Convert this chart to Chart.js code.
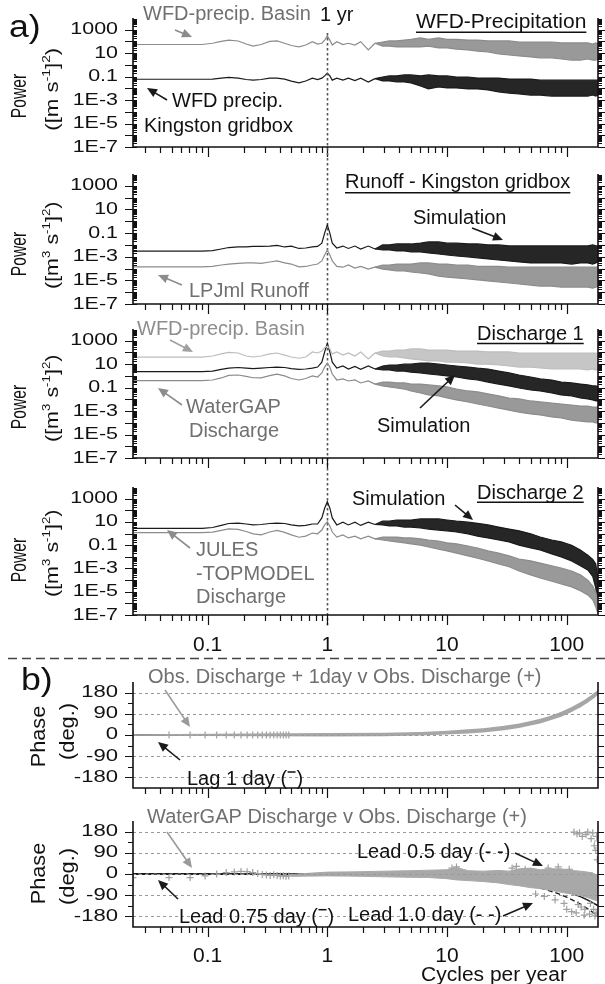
<!DOCTYPE html>
<html>
<head>
<meta charset="utf-8">
<script src="https://cdn.jsdelivr.net/npm/chart.js@4.4.1/dist/chart.umd.min.js"></script>
<style>
body { margin: 0; background: #fff; }
#fig { position: relative; width: 605px; height: 984px; background: #fff; overflow: hidden; }
#fig canvas { position: absolute; left: 0; top: 0; }
.ytitle { position: absolute; white-space: nowrap; color: #111; transform-origin: 50% 50%; z-index: 5; }
.ytitle .sup { font-size: 0.62em; position: relative; top: -0.68em; }
</style>
</head>
<body>
<div id="fig"></div>
<script>
// ---- data (cycles per year / power / phase) ----
var freqLow = [0.0238, 0.03, 0.04, 0.05, 0.06, 0.075, 0.09, 0.11, 0.13, 0.15, 0.18, 0.21, 0.24, 0.28, 0.33, 0.38, 0.44, 0.5, 0.58, 0.66, 0.75, 0.83, 0.9, 0.95, 1.0, 1.05, 1.1, 1.2, 1.35, 1.5, 1.7, 1.9, 2.2, 2.5];
var freqBand = [2.5, 2.9, 3.3, 3.8, 4.4, 5, 6, 7, 8.5, 10, 12, 15, 18, 22, 27, 33, 40, 50, 60, 75, 90, 110, 130, 150, 165, 175, 182.6];

// a) WFD precipitation
var precipBasinLow = [55, 55, 55, 55, 55, 55, 55, 70, 100, 130, 110, 60, 40, 55, 100, 110, 70, 45, 35, 50, 95, 60, 70, 130, 300, 130, 50, 95, 55, 70, 50, 95, 19, 70];
var precipBasinHi = [70, 90, 110, 110, 130, 150, 200, 150, 200, 150, 150, 130, 130, 110, 110, 110, 90, 90, 90, 90, 75, 75, 75, 75, 60, 75, 60];
var precipBasinLo = [70, 40, 40, 34, 34, 34, 34, 40, 28, 28, 22, 19, 15, 13, 8.5, 7, 5.8, 4.8, 4, 4, 3.2, 2.6, 2.6, 3.2, 2.6, 2.6, 3.2];
var precipGridLow = [0.06, 0.06, 0.06, 0.06, 0.06, 0.06, 0.06, 0.062, 0.075, 0.085, 0.075, 0.057, 0.05, 0.057, 0.075, 0.075, 0.062, 0.042, 0.029, 0.042, 0.075, 0.057, 0.075, 0.115, 0.2, 0.115, 0.05, 0.075, 0.05, 0.075, 0.046, 0.075, 0.035, 0.068];
var precipGridHi = [0.068, 0.093, 0.115, 0.115, 0.14, 0.14, 0.115, 0.14, 0.115, 0.115, 0.093, 0.093, 0.075, 0.075, 0.075, 0.062, 0.062, 0.062, 0.05, 0.05, 0.05, 0.05, 0.05, 0.05, 0.05, 0.05, 0.05];
var precipGridLo = [0.068, 0.043, 0.043, 0.035, 0.035, 0.029, 0.016, 0.009, 0.013, 0.011, 0.011, 0.009, 0.009, 0.0073, 0.0049, 0.004, 0.0033, 0.0027, 0.0027, 0.0022, 0.0022, 0.0022, 0.0022, 0.0022, 0.0027, 0.0022, 0.0027];

// runoff - Kingston gridbox
var runoffSimLow = [0.003, 0.003, 0.003, 0.003, 0.003, 0.003, 0.003, 0.0033, 0.0045, 0.006, 0.0067, 0.0067, 0.0075, 0.0075, 0.008, 0.009, 0.0067, 0.008, 0.005, 0.0055, 0.0067, 0.0075, 0.014, 0.1, 0.49, 0.1, 0.014, 0.0055, 0.008, 0.005, 0.008, 0.0045, 0.008, 0.0045];
var runoffSimHi = [0.0045, 0.01, 0.01, 0.012, 0.012, 0.012, 0.014, 0.018, 0.018, 0.014, 0.014, 0.012, 0.012, 0.01, 0.01, 0.0082, 0.0082, 0.0082, 0.0082, 0.0082, 0.0082, 0.0082, 0.0082, 0.0082, 0.01, 0.0082, 0.0082];
var runoffSimLo = [0.0045, 0.0037, 0.0037, 0.0031, 0.0031, 0.0025, 0.0025, 0.0021, 0.0017, 0.0014, 0.00115, 0.00095, 0.0008, 0.00065, 0.00053, 0.00044, 0.00036, 0.0003, 0.0003, 0.0003, 0.0003, 0.00024, 0.0003, 0.0003, 0.00024, 0.0003, 0.00036];
var lpjmlLow = [1.4e-4, 1.4e-4, 1.4e-4, 1.4e-4, 1.4e-4, 1.4e-4, 1.4e-4, 1.5e-4, 2e-4, 2.4e-4, 2.7e-4, 3e-4, 3e-4, 2.7e-4, 3.6e-4, 4.4e-4, 3e-4, 2.4e-4, 1.4e-4, 1.5e-4, 2e-4, 2.4e-4, 4.4e-4, 1.4e-3, 3.7e-3, 1.4e-3, 4.4e-4, 1.5e-4, 1.3e-4, 2e-4, 1.1e-4, 1.5e-4, 9e-5, 1.3e-4];
var lpjmlHi = [1.3e-4, 2e-4, 2e-4, 2.4e-4, 2.4e-4, 2.4e-4, 3e-4, 3e-4, 2.4e-4, 2.4e-4, 2e-4, 2e-4, 1.5e-4, 1.5e-4, 1.5e-4, 1.3e-4, 1.3e-4, 1.3e-4, 1.3e-4, 1.3e-4, 1.3e-4, 1.3e-4, 1.3e-4, 1.3e-4, 1.3e-4, 1.3e-4, 1.3e-4];
var lpjmlLo = [1.3e-4, 9e-5, 7.6e-5, 6.2e-5, 6.2e-5, 5.1e-5, 4.2e-5, 3.5e-5, 2.3e-5, 1.9e-5, 1.6e-5, 1.3e-5, 1.1e-5, 9e-6, 7.3e-6, 6e-6, 4.9e-6, 4e-6, 3.3e-6, 3.3e-6, 2.7e-6, 2.7e-6, 2.7e-6, 2.7e-6, 2.2e-6, 2.7e-6, 3.3e-6];

// discharge 1
var basinLow = [40, 40, 40, 40, 40, 40, 40, 50, 75, 100, 90, 50, 41, 50, 75, 90, 60, 41, 32, 41, 110, 90, 130, 250, 360, 200, 75, 110, 60, 90, 50, 110, 28, 90];
var basinHi = [90, 130, 130, 160, 160, 200, 200, 160, 160, 160, 130, 130, 130, 110, 110, 110, 90, 90, 90, 90, 90, 90, 90, 90, 90, 90, 75];
var basinLo = [90, 50, 41, 41, 34, 28, 23, 19, 19, 15, 15, 12.6, 10, 10, 8.5, 7, 5.7, 5.7, 4.7, 3.9, 3.9, 3.9, 3.9, 3.2, 3.9, 3.2, 3.9];
var dis1SimLow = [2.3, 2.3, 2.3, 2.3, 2.3, 2.3, 2.3, 2.6, 3.6, 4.6, 5.2, 4.6, 4.2, 4.6, 5.2, 5.7, 5.2, 4.2, 3.6, 3.9, 4.6, 5.7, 15, 110, 600, 110, 15, 4.6, 7, 3.9, 6.5, 3.6, 7, 3.9];
var dis1SimHi = [3.9, 7, 8.5, 8.5, 10, 10, 12.6, 12.6, 10, 8.5, 7, 5.7, 4.6, 3.9, 2.6, 1.8, 1.2, 0.81, 0.55, 0.45, 0.3, 0.25, 0.2, 0.17, 0.14, 0.14, 0.115];
var dis1SimLo = [3.9, 3.2, 3.2, 2.6, 2.6, 2.1, 1.8, 1.45, 1.2, 1.0, 0.81, 0.55, 0.45, 0.3, 0.2, 0.14, 0.093, 0.063, 0.052, 0.035, 0.024, 0.02, 0.013, 0.011, 0.009, 0.0073, 0.0073];
var waterGapLow = [0.39, 0.39, 0.39, 0.39, 0.39, 0.39, 0.39, 0.45, 0.67, 1.1, 1.2, 0.9, 0.7, 0.67, 1.05, 1.4, 1.0, 0.6, 0.45, 0.6, 1.0, 0.81, 1.8, 5.7, 12.6, 5.7, 1.45, 0.45, 0.55, 0.37, 0.45, 0.25, 0.37, 0.2];
var waterGapHi = [0.2, 0.3, 0.3, 0.25, 0.25, 0.2, 0.2, 0.17, 0.14, 0.115, 0.076, 0.052, 0.043, 0.029, 0.02, 0.013, 0.011, 0.0073, 0.006, 0.0049, 0.004, 0.0033, 0.0027, 0.0027, 0.0022, 0.0022, 0.0022];
var waterGapLo = [0.2, 0.14, 0.115, 0.093, 0.076, 0.052, 0.035, 0.024, 0.02, 0.013, 0.009, 0.006, 0.004, 0.0027, 0.0018, 0.0012, 8.3e-4, 5.7e-4, 4.7e-4, 3.2e-4, 2.6e-4, 1.7e-4, 1.4e-4, 1.2e-4, 1.2e-4, 9.8e-5, 9.8e-5];

// discharge 2
var dis2SimLow = [2.8, 2.8, 2.8, 2.8, 2.8, 2.8, 2.8, 3.3, 5.0, 7.3, 8, 6.6, 5.5, 6, 7.3, 8, 7.3, 5.5, 4.5, 5, 6.6, 6.6, 22, 150, 550, 150, 22, 5.5, 9.5, 5.5, 9.5, 5, 9.5, 6];
var dis2SimHi = [6, 11.5, 11.5, 14.6, 14.6, 14.6, 18, 18, 18, 14.6, 11.5, 9.5, 7.6, 5.5, 3.6, 2.4, 1.7, 0.95, 0.5, 0.28, 0.19, 0.1, 0.039, 0.014, 0.006, 0.0024, 1e-4];
var dis2SimLo = [6, 5.5, 4.5, 4.5, 3.6, 3.6, 3, 2.4, 2.0, 1.7, 1.35, 0.95, 0.6, 0.42, 0.28, 0.19, 0.1, 0.057, 0.039, 0.018, 0.01, 0.0045, 0.0017, 7.4e-4, 2.1e-4, 2.1e-5, 1.5e-7];
var julesLow = [1.2, 1.2, 1.2, 1.2, 1.2, 1.2, 1.2, 1.35, 1.85, 2.5, 2.3, 1.5, 0.95, 0.76, 1.35, 1.85, 1.25, 0.76, 0.48, 0.6, 1.1, 0.95, 2, 5.5, 10.4, 4.5, 1.35, 0.5, 0.76, 0.42, 0.6, 0.35, 0.6, 0.35];
var julesHi = [0.35, 0.5, 0.5, 0.5, 0.42, 0.42, 0.35, 0.28, 0.23, 0.16, 0.13, 0.085, 0.057, 0.032, 0.021, 0.012, 0.0065, 0.0045, 0.0029, 0.0017, 0.0011, 6e-4, 2.8e-4, 1e-4, 3.1e-5, 8.6e-6, 2e-6];
var julesLo = [0.35, 0.28, 0.23, 0.19, 0.16, 0.13, 0.1, 0.07, 0.046, 0.032, 0.021, 0.012, 0.0075, 0.0045, 0.0025, 0.0014, 6e-4, 2.8e-4, 1.5e-4, 8e-5, 4.6e-5, 2.6e-5, 1.2e-5, 5.3e-6, 2e-6, 5e-7, 1.25e-7];

// b) phase
var phaseFreq = [0.0238, 1, 3, 6, 10, 15, 20, 30, 40, 50, 60, 70, 80, 90, 100, 110, 120, 130, 140, 150, 160, 170, 182.6];
var lag1Day = [0.02, 1, 3, 5.9, 9.9, 14.8, 19.7, 29.6, 39.4, 49.3, 59.1, 69, 78.9, 88.7, 98.6, 108.4, 118.3, 128.1, 138, 147.8, 157.7, 167.6, 180];
var obsLagHi = [3, 8, 10, 13, 18, 24, 29, 39, 49, 59, 69, 79, 89, 99, 109, 119, 129, 139, 149, 159, 169, 179, 191];
var obsLagLo = [-3, -6, -5, -2, 2, 6, 11, 20, 30, 40, 49, 59, 69, 78, 88, 98, 108, 117, 127, 137, 147, 157, 170];
var lowBinFreq = [0.0238, 0.0476, 0.0714, 0.0952, 0.119, 0.143, 0.167, 0.19, 0.214, 0.238, 0.262, 0.286, 0.31, 0.333, 0.357, 0.381, 0.405, 0.429, 0.452, 0.476];
var obsLagLowPhase = [0.02, 0.05, 0.07, 0.09, 0.12, 0.14, 0.16, 0.19, 0.21, 0.23, 0.26, 0.28, 0.31, 0.33, 0.35, 0.38, 0.4, 0.42, 0.45, 0.47];

var lead075Day = [-0.02, -0.74, -2.2, -4.4, -7.4, -11.1, -14.8, -22.2, -29.6, -37, -44.4, -51.7, -59.1, -66.5, -73.9, -81.3, -88.7, -96.1, -103.5, -110.9, -118.3, -125.6, -135];
var lead05Day = [-0.01, -0.5, -1.5, -3, -4.9, -7.4, -9.9, -14.8, -19.7, -24.6, -29.6, -34.5, -39.4, -44.4, -49.3, -54.2, -59.1, -64.1, -69, -73.9, -78.9, -83.8, -90];
var lead1Day = [-0.02, -1, -3, -5.9, -9.9, -14.8, -19.7, -29.6, -39.4, -49.3, -59.1, -69, -78.9, -88.7, -98.6, -108.4, -118.3, -128.1, -138, -147.8, -157.7, -167.6, -180];
var wgLowPhase = [-15, -15, -15, -8, 0, 6, 9, 11, 10, 6, 2, -2, -4, -6, -3, -6, -9, -7, -10, -8];
var wgCloudFreq = [0.5, 0.7, 1, 1.5, 2, 3, 5, 7, 10, 12, 15, 20, 27, 33, 40, 50, 60, 75, 90, 110, 130, 150, 165, 182.6];
var wgCloudHi = [-2, 3, 8, 9, 10, 12, 14, 16, 18, 28, 14, 12, 15, 12, 22, 25, 18, 22, 22, 15, 12, 8, 5, -10];
var wgCloudLo = [-10, -9, -8, -9, -10, -12, -14, -15, -20, -25, -28, -32, -38, -45, -50, -58, -62, -70, -78, -85, -92, -100, -108, -115];
var wgOutFreq = [11, 12, 35, 38, 45, 55, 65, 70, 80, 85, 95, 100, 105, 110, 115, 120, 122, 128, 135, 140, 145, 150, 155, 160, 165, 170, 172, 175, 178, 180, 181, 182, 125, 132, 142, 158, 168, 176];
var wgOutPhase = [25, 30, 25, 32, 20, -85, -95, 25, -110, 30, -125, -150, 20, -160, 178, -165, 170, 175, 160, -175, 168, 178, -170, 150, 175, 120, -178, 100, 160, 60, 140, -170, -130, -140, -150, -125, -150, -165];

// tick labels
var powerTicks = [1e3, 10, 0.1, 1e-3, 1e-5, 1e-7];
var powerTickLabels = ['1000', '10', '0.1', '1E-3', '1E-5', '1E-7'];
var phaseTicks = [180, 90, 0, -90, -180];
var phaseTickLabels = ['180', '90', '0', '-90', '-180'];
var freqTicks = [0.1, 1, 10, 100];
var freqTickLabels = ['0.1', '1', '10', '100'];

// ---- drawing ----
var W = 605, H = 984, XMIN = 0.0238, XMAX = 182.6;
var PLOT_L = 133, PLOT_R = 598;
var FONT = '"Liberation Sans", Arial, Helvetica, sans-serif';
var BLACK = '#1a1a1a', GRAY = '#8c8c8c', LIGHT = '#bdbdbd', GRAY_TXT = '#707070', LIGHT_TXT = '#8e8e8e';
var fig = document.getElementById('fig');

function xy(xs, ys) {
    return xs.map(function (v, i) { return { x: v, y: ys[i] }; });
}

function line(xs, ys, color, w, extra) {
    var d = { data: xy(xs, ys), borderColor: color, backgroundColor: color, borderWidth: w, pointRadius: 0, tension: 0, fill: false };
    for (var k in extra) d[k] = extra[k];
    return d;
}

// a spectrum: thin line at low frequency + noisy band (filled between hi and lo)
function spectrum(low, hi, lo, color, bandFill) {
    return [
        line(freqLow, low, color, 1.2),
        line(freqBand, hi, color, 1.2),
        line(freqBand, lo, color, 1.2, { fill: '-1', backgroundColor: bandFill })
    ];
}

function marks(xs, ys, color) {
    return { data: xy(xs, ys), showLine: false, pointStyle: 'cross', pointRadius: 3.5, pointBorderColor: color, pointBorderWidth: 1.2, borderColor: color };
}

function font(size) {
    return Math.round(size * 10) / 10 + 'px ' + FONT;
}

function label(ctx, s, x, y, o) {
    o = o || {};
    var sx = o.sx || 1;
    ctx.save();
    ctx.translate(x, y);
    ctx.scale(sx, 1);
    ctx.font = font(o.size || 20);
    ctx.fillStyle = o.color || '#111';
    ctx.textAlign = o.align || 'left';
    ctx.textBaseline = o.base || 'alphabetic';
    ctx.fillText(s, 0, 0);
    var w = ctx.measureText(s).width * sx;
    ctx.restore();
    if (o.under) {
        ctx.save();
        ctx.strokeStyle = o.color || '#111';
        ctx.lineWidth = 1.4;
        ctx.beginPath();
        ctx.moveTo(x, y + o.under);
        ctx.lineTo(x + w, y + o.under);
        ctx.stroke();
        ctx.restore();
    }
    return w;
}

// "... (‾)" : the line symbol is drawn as a short stroke near cap height
function lineKey(ctx, s, x, y) {
    var w = label(ctx, s + ' (', x, y, { size: 20 });
    ctx.save();
    ctx.strokeStyle = '#111';
    ctx.lineWidth = 1.5;
    ctx.beginPath();
    ctx.moveTo(x + w + 0.5, y - 13);
    ctx.lineTo(x + w + 8.5, y - 13);
    ctx.stroke();
    ctx.restore();
    label(ctx, ')', x + w + 9.5, y, { size: 20 });
}

function arrow(ctx, x1, y1, x2, y2, color) {
    var a = Math.atan2(y2 - y1, x2 - x1), L = 10, hw = 4.5;
    var ca = Math.cos(a), sa = Math.sin(a);
    ctx.save();
    ctx.strokeStyle = color;
    ctx.fillStyle = color;
    ctx.lineWidth = 1.6;
    ctx.beginPath();
    ctx.moveTo(x1, y1);
    ctx.lineTo(x2 - L * 0.8 * ca, y2 - L * 0.8 * sa);
    ctx.stroke();
    ctx.beginPath();
    ctx.moveTo(x2, y2);
    ctx.lineTo(x2 - L * ca + hw * sa, y2 - L * sa - hw * ca);
    ctx.lineTo(x2 - L * ca - hw * sa, y2 - L * sa + hw * ca);
    ctx.closePath();
    ctx.fill();
    ctx.restore();
}

function box(c) {
    var ctx = c.ctx, a = c.chartArea;
    ctx.save();
    ctx.strokeStyle = '#111';
    ctx.lineWidth = 1.6;
    ctx.beginPath();
    ctx.moveTo(a.left, a.top);
    ctx.lineTo(a.left, a.bottom);
    ctx.lineTo(a.right, a.bottom);
    ctx.lineTo(a.right, a.top);
    ctx.stroke();
    // x ticks (outward, below)
    ctx.lineWidth = 1.2;
    ctx.beginPath();
    for (var e = -2; e <= 2; e++) {
        for (var m = 1; m < 10; m++) {
            var v = m * Math.pow(10, e);
            if (v < XMIN || v > XMAX) continue;
            var px = Math.round(c.scales.x.getPixelForValue(v)) + 0.5;
            ctx.moveTo(px, a.bottom);
            ctx.lineTo(px, a.bottom + (m === 1 ? 10 : 6));
        }
    }
    ctx.stroke();
    ctx.restore();
}

function frameLog(c) {
    var ctx = c.ctx, a = c.chartArea, y = c.scales.y;
    box(c);
    ctx.save();
    ctx.strokeStyle = '#111';
    ctx.lineWidth = 1;
    ctx.beginPath();
    for (var e = -7; e <= 3; e++) {
        for (var m = 1; m < 10; m++) {
            var py = Math.round(y.getPixelForValue(m * Math.pow(10, e))) + 0.5;
            if (m === 1) {
                ctx.moveTo(a.left - 8, py); ctx.lineTo(a.left + 4, py);
                ctx.moveTo(a.right, py); ctx.lineTo(a.right + 7, py);
            } else {
                ctx.moveTo(a.left, py); ctx.lineTo(a.left + 4, py);
                ctx.moveTo(a.right, py); ctx.lineTo(a.right + 4, py);
            }
        }
    }
    ctx.stroke();
    ctx.restore();
    powerTicks.forEach(function (v, i) {
        label(ctx, powerTickLabels[i], PLOT_L - 15, y.getPixelForValue(v), { size: 16.5, sx: 1.3, align: 'right', base: 'middle' });
    });
}

function framePhase(c) {
    var ctx = c.ctx, a = c.chartArea, y = c.scales.y;
    ctx.save();
    ctx.strokeStyle = '#9a9a9a';
    ctx.lineWidth = 1;
    ctx.setLineDash([3, 3]);
    ctx.beginPath();
    phaseTicks.forEach(function (v) {
        var py = Math.round(y.getPixelForValue(v)) + 0.5;
        ctx.moveTo(a.left, py); ctx.lineTo(a.right, py);
    });
    ctx.stroke();
    ctx.restore();
    box(c);
    ctx.save();
    ctx.strokeStyle = '#111';
    ctx.lineWidth = 1.2;
    ctx.beginPath();
    for (var v = -180; v <= 180; v += 45) {
        var py = Math.round(y.getPixelForValue(v)) + 0.5;
        var len = (v % 90 === 0) ? 8 : 5;
        ctx.moveTo(a.left - len, py); ctx.lineTo(a.left, py);
        ctx.moveTo(a.right, py); ctx.lineTo(a.right + 6, py);
    }
    ctx.stroke();
    ctx.restore();
    phaseTicks.forEach(function (v, i) {
        label(ctx, phaseTickLabels[i], PLOT_L - 15, y.getPixelForValue(v), { size: 16, sx: 1.38, align: 'right', base: 'middle' });
    });
}

function xLabels(c, base) {
    freqTicks.forEach(function (v, i) {
        label(c.ctx, freqTickLabels[i], c.scales.x.getPixelForValue(v), base, { size: 20, sx: 1.05, align: 'center' });
    });
}

// rotated HTML axis titles, centred on (cx, cy), stretched along the text to 'fit' px
function yTitle(html, cx, cy, size, fit) {
    var el = document.createElement('div');
    el.className = 'ytitle';
    el.innerHTML = html;
    el.style.font = size + 'px ' + FONT;
    el.style.lineHeight = size + 'px';
    fig.appendChild(el);
    var w = el.offsetWidth;
    var k = fit ? fit / w : 1;
    el.style.left = (cx - w / 2) + 'px';
    el.style.top = (cy - size / 2) + 'px';
    el.style.transform = 'rotate(-90deg) scaleX(' + k.toFixed(3) + ')';
}

function addChart(top, bottom, yScale, datasets, deco) {
    var cv = document.createElement('canvas');
    cv.width = W;
    cv.height = H;
    cv.style.width = W + 'px';
    cv.style.height = H + 'px';
    fig.appendChild(cv);
    return new Chart(cv, {
        type: 'line',
        data: { datasets: datasets },
        options: {
            responsive: false,
            animation: false,
            devicePixelRatio: 1,
            events: [],
            layout: { padding: { left: PLOT_L, right: W - PLOT_R, top: top, bottom: H - bottom } },
            plugins: { legend: { display: false }, tooltip: { enabled: false } },
            scales: {
                x: { type: 'logarithmic', min: XMIN, max: XMAX, display: false },
                y: yScale
            }
        },
        plugins: [{ id: 'deco', afterDraw: deco }]
    });
}

var LOGY = { type: 'logarithmic', min: 1e-7, max: 1e4, display: false };
var LINY = { type: 'linear', min: -225, max: 225, display: false };

// panel 1: WFD precipitation
addChart(18, 147, LOGY,
    spectrum(precipBasinLow, precipBasinHi, precipBasinLo, GRAY, '#999999')
        .concat(spectrum(precipGridLow, precipGridHi, precipGridLo, BLACK, '#262626')),
    function (c) {
        var ctx = c.ctx;
        frameLog(c);
        label(ctx, 'a)', 9, 36.5, { size: 31, sx: 1.15 });
        var x1 = Math.round(c.scales.x.getPixelForValue(1)) + 0.5;
        ctx.save();
        ctx.strokeStyle = '#555';
        ctx.lineWidth = 1.6;
        ctx.setLineDash([2.5, 2.5]);
        ctx.beginPath();
        ctx.moveTo(x1, 33);
        ctx.lineTo(x1, 627);
        ctx.stroke();
        ctx.restore();
        label(ctx, '1 yr', 320, 20.5, { size: 20 });
        label(ctx, 'WFD-precip. Basin', 143, 20, { size: 20, color: GRAY_TXT });
        arrow(ctx, 175, 30, 192, 37, GRAY);
        label(ctx, 'WFD-Precipitation', 416, 28.3, { size: 20, sx: 1.05, under: 4 });
        label(ctx, 'WFD precip.', 172, 106.7, { size: 20 });
        label(ctx, 'Kingston gridbox', 144, 131.7, { size: 20 });
        arrow(ctx, 167, 100, 147, 88, BLACK);
    });

// panel 2: runoff
addChart(174, 304, LOGY,
    spectrum(lpjmlLow, lpjmlHi, lpjmlLo, GRAY, '#999999')
        .concat(spectrum(runoffSimLow, runoffSimHi, runoffSimLo, BLACK, '#262626')),
    function (c) {
        var ctx = c.ctx;
        frameLog(c);
        label(ctx, 'Runoff - Kingston gridbox', 345, 188.3, { size: 20, under: 4.5 });
        label(ctx, 'Simulation', 413, 224, { size: 20 });
        arrow(ctx, 472, 228, 503, 240, BLACK);
        label(ctx, 'LPJml Runoff', 189, 296.7, { size: 20, color: GRAY_TXT });
        arrow(ctx, 182, 285, 158, 275, GRAY);
    });

// panel 3: discharge 1
addChart(329, 458, LOGY,
    spectrum(basinLow, basinHi, basinLo, LIGHT, '#c6c6c6')
        .concat(spectrum(waterGapLow, waterGapHi, waterGapLo, GRAY, '#999999'))
        .concat(spectrum(dis1SimLow, dis1SimHi, dis1SimLo, BLACK, '#262626')),
    function (c) {
        var ctx = c.ctx;
        frameLog(c);
        label(ctx, 'WFD-precip. Basin', 137, 335, { size: 20, color: LIGHT_TXT });
        arrow(ctx, 170, 340, 193, 352, '#a0a0a0');
        label(ctx, 'Discharge 1', 477, 340, { size: 20, under: 3.5 });
        label(ctx, 'WaterGAP', 233.5, 413.3, { size: 20, color: GRAY_TXT, align: 'center' });
        label(ctx, 'Discharge', 234, 437.3, { size: 20, color: GRAY_TXT, align: 'center' });
        arrow(ctx, 182, 405, 158, 388, GRAY);
        label(ctx, 'Simulation', 377, 431.7, { size: 20 });
        arrow(ctx, 420, 408, 455, 375, BLACK);
    });

// panel 4: discharge 2
addChart(487, 615, LOGY,
    spectrum(julesLow, julesHi, julesLo, GRAY, '#999999')
        .concat(spectrum(dis2SimLow, dis2SimHi, dis2SimLo, BLACK, '#262626')),
    function (c) {
        var ctx = c.ctx;
        frameLog(c);
        xLabels(c, 650.5);
        label(ctx, 'Simulation', 352, 505, { size: 20 });
        arrow(ctx, 455, 505, 473, 520, BLACK);
        label(ctx, 'Discharge 2', 477, 499.3, { size: 20, under: 3 });
        label(ctx, 'JULES', 196, 556, { size: 20, color: GRAY_TXT });
        label(ctx, '-TOPMODEL', 196, 580, { size: 20, color: GRAY_TXT });
        label(ctx, 'Discharge', 196, 603.3, { size: 20, color: GRAY_TXT });
        arrow(ctx, 190, 548, 167, 530, GRAY);
    });

// panel 5: obs + 1 day vs obs
addChart(682, 788, LINY, [
    line(phaseFreq, obsLagHi, '#a6a6a6', 0),
    line(phaseFreq, obsLagLo, '#a6a6a6', 0, { fill: '-1' }),
    marks(lowBinFreq, obsLagLowPhase, '#a0a0a0'),
    line(phaseFreq, lag1Day, BLACK, 1.6)
], function (c) {
    var ctx = c.ctx;
    framePhase(c);
    ctx.save();
    ctx.strokeStyle = '#444';
    ctx.lineWidth = 1.4;
    ctx.setLineDash([9, 5]);
    ctx.beginPath();
    ctx.moveTo(8, 658.5);
    ctx.lineTo(605, 658.5);
    ctx.stroke();
    ctx.restore();
    label(ctx, 'b)', 21, 690, { size: 31, sx: 1.15 });
    label(ctx, 'Obs. Discharge + 1day v Obs. Discharge (+)', 148, 683.3, { size: 20, color: GRAY_TXT });
    arrow(ctx, 165, 690, 190, 727, '#9a9a9a');
    lineKey(ctx, 'Lag 1 day', 187, 785);
    arrow(ctx, 180, 760, 158, 742, BLACK);
});

// panel 6: WaterGAP vs obs
addChart(821, 927, LINY, [
    line(wgCloudFreq, wgCloudHi, '#a8a8a8', 1),
    line(wgCloudFreq, wgCloudLo, '#a8a8a8', 1, { fill: '-1' }),
    marks(lowBinFreq, wgLowPhase, '#a0a0a0'),
    marks(wgOutFreq, wgOutPhase, '#a0a0a0'),
    line(phaseFreq, lead05Day, BLACK, 1.4, { borderDash: [5, 3] }),
    line(phaseFreq, lead1Day, BLACK, 1.4, { borderDash: [5, 3] }),
    line(phaseFreq, lead075Day, BLACK, 1.6)
], function (c) {
    var ctx = c.ctx;
    framePhase(c);
    xLabels(c, 961.5);
    label(ctx, 'Cycles per year', 494, 980.5, { size: 20, sx: 1.05, align: 'center' });
    label(ctx, 'WaterGAP Discharge v Obs. Discharge (+)', 147, 822.7, { size: 20, color: GRAY_TXT });
    arrow(ctx, 167, 832, 192, 868, '#9a9a9a');
    lineKey(ctx, 'Lead 0.75 day', 179, 922.7);
    arrow(ctx, 178, 899, 158, 880, BLACK);
    label(ctx, 'Lead 0.5 day (- -)', 357, 858.3, { size: 20 });
    arrow(ctx, 515, 853, 543, 866, BLACK);
    label(ctx, 'Lead 1.0 day (- -)', 348, 920.7, { size: 20 });
    arrow(ctx, 503, 916, 533, 903, BLACK);
});

// axis titles
var UNITS1 = '([m s<span class="sup">-1</span>]<span class="sup">2</span>)';
var UNITS3 = '([m<span class="sup">3</span> s<span class="sup">-1</span>]<span class="sup">2</span>)';
yTitle('Power', 19.4, 96, 22, 44);
yTitle(UNITS1, 53, 88, 18.5, 83);
yTitle('Power', 19.4, 254, 22, 44);
yTitle(UNITS3, 53, 244, 18.5, 87);
yTitle('Power', 19.4, 407, 22, 44);
yTitle(UNITS3, 53, 397, 18.5, 87);
yTitle('Power', 19.4, 560, 22, 44);
yTitle(UNITS3, 53, 552, 18.5, 87);
yTitle('Phase', 37.7, 736.5, 21, 62);
yTitle('(deg.)', 66.2, 731.5, 21, 57);
yTitle('Phase', 37.7, 873.5, 21, 62);
yTitle('(deg.)', 66.2, 876.5, 21, 57);
</script>
</body>
</html>
